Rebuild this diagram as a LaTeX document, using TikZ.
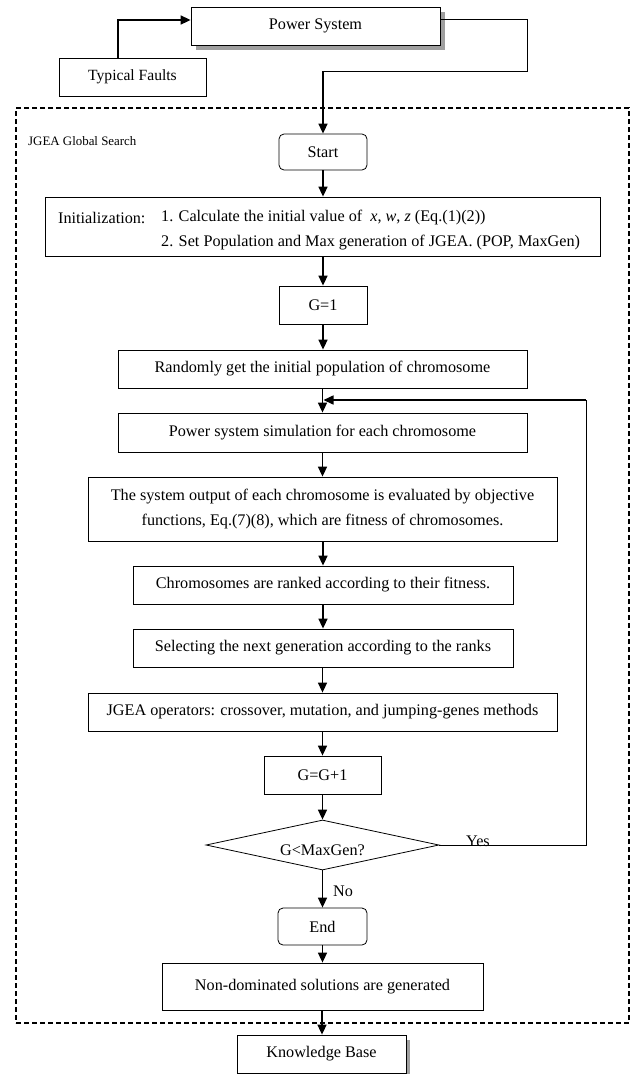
\documentclass[tikz,border=0pt]{standalone}
\usepackage{fontspec}
\setmainfont{Liberation Serif}
\usetikzlibrary{shapes.geometric,arrows.meta,calc,backgrounds}
\begin{document}
\begin{tikzpicture}[x=1pt,y=-1pt,
  box/.style={draw, line width=0.8pt, inner sep=0pt, font=\fontsize{16.2}{25}\selectfont, align=center, fill=white},
  rbox/.style={box, rounded corners=5pt},
  arr/.style={line width=1.6pt, -{Triangle[length=10pt,width=9pt]}},
  thinline/.style={line width=0.8pt},
  lbl/.style={font=\fontsize{16.2}{19}\selectfont, inner sep=0pt},
  shadowfill/.style={fill=gray!75}
]
\useasboundingbox (0,0) rectangle (631,1074);

% group frame
\node[draw, line width=1.4pt, dash pattern=on 5pt off 3pt, minimum width=613pt, minimum height=915pt, inner sep=0pt] (frame) at (322.5,565.5) {};
\node[font=\fontsize{12.9}{15}\selectfont, inner sep=0pt, anchor=west] (grplbl) at (28,141) {JGEA Global Search};

% top nodes
\node[box, minimum width=249pt, minimum height=38pt] (ps) at (315.5,26) {Power System};
\node[box, minimum width=147pt, minimum height=38pt, font=\fontsize{15.6}{19}\selectfont] (tf) at (132.5,77) {Typical Faults};

% flow nodes
\node[rbox, minimum width=88pt, minimum height=36pt] (start) at (323,152) {Start};
\node[box, minimum width=555pt, minimum height=59pt] (init) at (322.5,226.5) {};
\node[lbl, anchor=west] (initl) at (58,218) {Initialization:};
\node[lbl, anchor=west] (init1) at (161,218) {1. Calculate the initial value of \ {\itshape x}, {\itshape w}, {\itshape z} (Eq.(1)(2))};
\node[lbl, anchor=west] (init2) at (161,243) {2. Set Population and Max generation of JGEA. (POP, MaxGen)};
\node[box, minimum width=88pt, minimum height=38pt] (g1) at (323,305) {G=1};
\node[box, minimum width=409pt, minimum height=38pt] (rand) at (322.5,369) {Randomly get the initial population of chromosome};
\node[box, minimum width=409pt, minimum height=39pt] (sim) at (322.5,432.5) {Power system simulation for each chromosome};
\node[box, minimum width=469pt, minimum height=64pt] (eval) at (322.5,509) {The system output of each chromosome is evaluated by objective\\functions, Eq.(7)(8), which are fitness of chromosomes.};
\node[box, minimum width=380pt, minimum height=38pt] (rank) at (323,585) {Chromosomes are ranked according to their fitness.};
\node[box, minimum width=380pt, minimum height=38pt] (sel) at (323,648) {Selecting the next generation according to the ranks};
\node[box, minimum width=469pt, minimum height=38pt] (ops) at (322.5,712) {JGEA operators: crossover, mutation, and jumping-genes methods};
\node[box, minimum width=117pt, minimum height=38pt] (gp1) at (322.5,775) {G=G+1};
\node[draw, diamond, line width=0.8pt, minimum width=233pt, minimum height=50pt, inner sep=0pt] (dec) at (322.5,845) {};
\node[lbl] (dect) at (322.5,850) {G<MaxGen?};
\node[rbox, minimum width=89pt, minimum height=37pt] (end) at (322.5,926.5) {End};
\node[box, minimum width=321pt, minimum height=47pt] (nd) at (322.5,986.5) {Non-dominated solutions are generated};
\node[box, minimum width=169pt, minimum height=38pt] (kb) at (321.5,1054) {Knowledge Base};

% shadows
\begin{scope}[on background layer]
  \fill[shadowfill] ($(ps.north west)+(5,5)$) rectangle ($(ps.south east)+(4.5,5)$);
  \fill[shadowfill] ($(kb.north west)+(5,5)$) rectangle ($(kb.south east)+(3.5,5)$);
\end{scope}

% connectors at top
\draw[arr] ([xshift=-14.5pt]tf.north) |- ([yshift=6pt]ps.west);
\coordinate (r2) at (527,71);
\coordinate (r3) at (323,71);
\draw[thinline] ([yshift=7pt]ps.east) -| (r2) -- (r3);
\draw[arr] (r3) -- (start.north);

% main flow
\draw[arr] (start.south) -- (start.south |- init.north);
\draw[arr] (g1.north |- init.south) -- (g1.north);
\draw[arr] (g1.south) -- (g1.south |- rand.north);
\draw[arr] (rand.south -| sim.north) -- (sim.north);
\draw[arr] (sim.south) -- (sim.south |- eval.north);
\draw[arr] (eval.south -| rank.north) -- (rank.north);
\draw[arr] (rank.south) -- (sel.north);
\draw[arr] (sel.south -| ops.north) -- (ops.north);
\draw[arr] (ops.south) -- (gp1.north);
\draw[arr] (gp1.south) -- (dec.north);
\draw[arr] (dec.south) -- (end.north);
\draw[arr] (end.south) -- (nd.north);
\draw[arr] (nd.south -| kb.north) ++(0.5,0) -- ([xshift=0.5pt]kb.north);

% loop back
\coordinate (l1) at (586,400);
\draw[thinline] (dec.east) -| (l1);
\draw[arr, shorten >=1pt] (l1) -- (l1 -| sim.north);

% labels
\node[lbl, anchor=base west] (yes) at (466,846) {Yes};
\node[lbl, anchor=west] (no) at (333,891) {No};
\end{tikzpicture}
\end{document}
